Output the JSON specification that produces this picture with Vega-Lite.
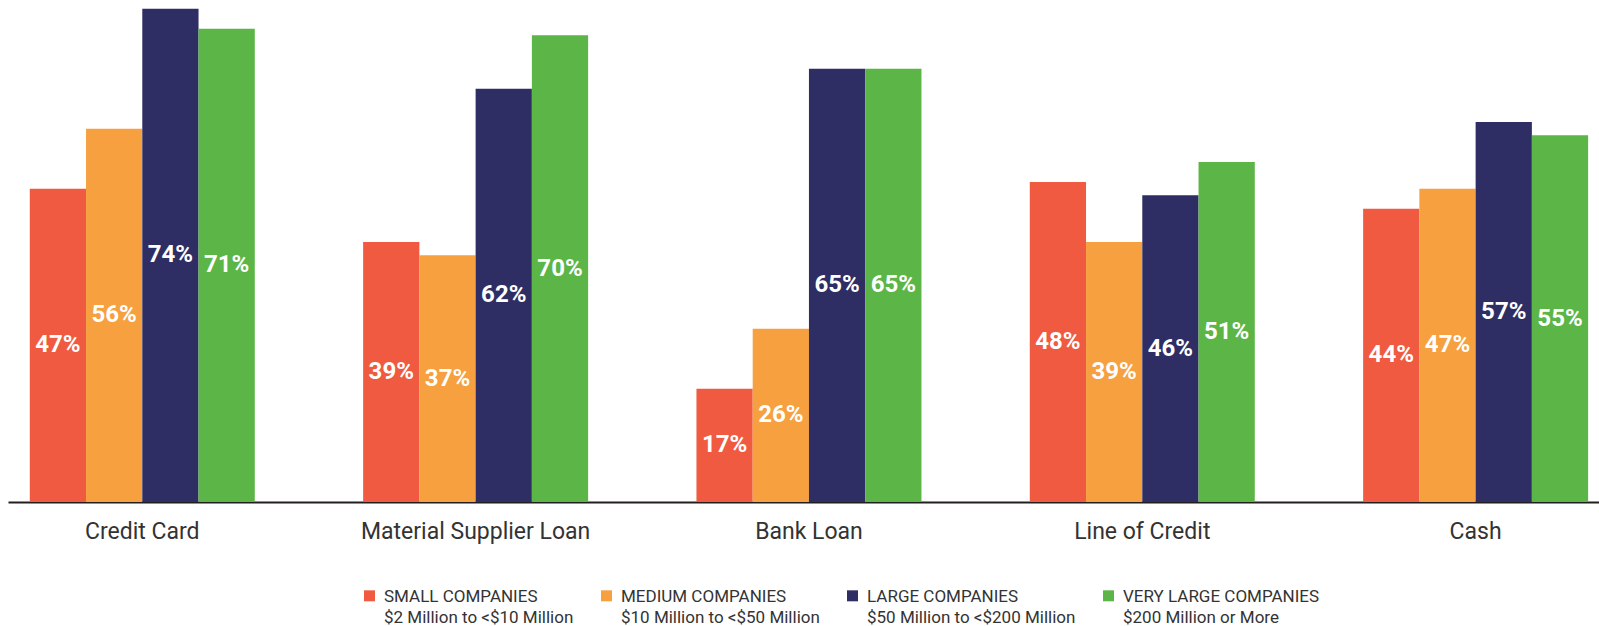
{
  "$schema": "https://vega.github.io/schema/vega-lite/v6.json",
  "autosize": {"type": "none"},
  "padding": {"left": 8, "top": 2, "right": 0, "bottom": 124},
  "width": 1591,
  "height": 500,
  "background": "#ffffff",
  "config": {
    "view": {"stroke": null},
    "font": "Roboto",
    "style": {"guide-label": {"lineHeight": 21.5}}
  },
  "data": {
    "values": [
      {"source": "Credit Card", "size": "SMALL COMPANIES", "value": 47},
      {"source": "Credit Card", "size": "MEDIUM COMPANIES", "value": 56},
      {"source": "Credit Card", "size": "LARGE COMPANIES", "value": 74},
      {"source": "Credit Card", "size": "VERY LARGE COMPANIES", "value": 71},
      {"source": "Material Supplier Loan", "size": "SMALL COMPANIES", "value": 39},
      {"source": "Material Supplier Loan", "size": "MEDIUM COMPANIES", "value": 37},
      {"source": "Material Supplier Loan", "size": "LARGE COMPANIES", "value": 62},
      {"source": "Material Supplier Loan", "size": "VERY LARGE COMPANIES", "value": 70},
      {"source": "Bank Loan", "size": "SMALL COMPANIES", "value": 17},
      {"source": "Bank Loan", "size": "MEDIUM COMPANIES", "value": 26},
      {"source": "Bank Loan", "size": "LARGE COMPANIES", "value": 65},
      {"source": "Bank Loan", "size": "VERY LARGE COMPANIES", "value": 65},
      {"source": "Line of Credit", "size": "SMALL COMPANIES", "value": 48},
      {"source": "Line of Credit", "size": "MEDIUM COMPANIES", "value": 39},
      {"source": "Line of Credit", "size": "LARGE COMPANIES", "value": 46},
      {"source": "Line of Credit", "size": "VERY LARGE COMPANIES", "value": 51},
      {"source": "Cash", "size": "SMALL COMPANIES", "value": 44},
      {"source": "Cash", "size": "MEDIUM COMPANIES", "value": 47},
      {"source": "Cash", "size": "LARGE COMPANIES", "value": 57},
      {"source": "Cash", "size": "VERY LARGE COMPANIES", "value": 55}
    ]
  },
  "transform": [
    {"calculate": "datum.value / 2", "as": "labelPos"},
    {"calculate": "datum.value + '%'", "as": "labelText"}
  ],
  "encoding": {
    "x": {
      "field": "source",
      "type": "nominal",
      "sort": ["Credit Card", "Material Supplier Loan", "Bank Loan", "Line of Credit", "Cash"],
      "scale": {"paddingInner": 0.325, "paddingOuter": 0.049, "align": 0.667},
      "axis": {
        "title": null,
        "labelAngle": 0,
        "ticks": false,
        "labelFontSize": 23,
        "labelColor": "#333333",
        "labelPadding": 18,
        "labelLimit": 0,
        "labelFont": "Roboto",
        "domainColor": "#231f20",
        "domainOpacity": 1,
        "domainWidth": 2
      }
    },
    "xOffset": {
      "field": "size",
      "type": "nominal",
      "sort": ["SMALL COMPANIES", "MEDIUM COMPANIES", "LARGE COMPANIES", "VERY LARGE COMPANIES"],
      "scale": {"paddingInner": 0, "paddingOuter": 0}
    }
  },
  "layer": [
    {
      "mark": {"type": "bar", "stroke": {"expr": "null"}},
      "encoding": {
        "y": {
          "field": "value",
          "type": "quantitative",
          "scale": {"domain": [0, 75], "nice": false, "zero": true},
          "axis": null
        },
        "color": {
          "field": "size",
          "type": "nominal",
          "scale": {
            "domain": ["SMALL COMPANIES", "MEDIUM COMPANIES", "LARGE COMPANIES", "VERY LARGE COMPANIES"],
            "range": ["#f05a40", "#f6a03f", "#2e2d64", "#5cb547"]
          },
          "legend": {
            "title": null,
            "orient": "none",
            "direction": "horizontal",
            "legendX": 353,
            "legendY": 578,
            "symbolType": "M-1,0.33H1V2.33H-1Z",
            "symbolSize": 121,
            "symbolStrokeWidth": 0,
            "symbolOpacity": 1,
            "labelBaseline": "top",
            "labelFont": "Roboto",
            "labelFontSize": 17,
            "labelColor": "#333333",
            "labelLimit": 0,
            "labelOffset": 6,
            "columnPadding": 24,
            "labelExpr": "datum.label == 'SMALL COMPANIES' ? ['SMALL COMPANIES', '$2 Million to <$10 Million'] : datum.label == 'MEDIUM COMPANIES' ? ['MEDIUM COMPANIES', '$10 Million to <$50 Million'] : datum.label == 'LARGE COMPANIES' ? ['LARGE COMPANIES', '$50 Million to <$200 Million'] : ['VERY LARGE COMPANIES', '$200 Million or More']"
          }
        }
      }
    },
    {
      "mark": {
        "type": "text",
        "color": "#ffffff",
        "font": "Roboto",
        "fontWeight": "bold",
        "fontSize": 24,
        "baseline": "middle",
        "align": "center"
      },
      "encoding": {
        "y": {"field": "labelPos", "type": "quantitative", "scale": {"domain": [0, 75], "nice": false}},
        "text": {"field": "labelText", "type": "nominal"},
        "detail": {"field": "size"}
      }
    }
  ],
  "resolve": {"scale": {"y": "shared"}}
}
